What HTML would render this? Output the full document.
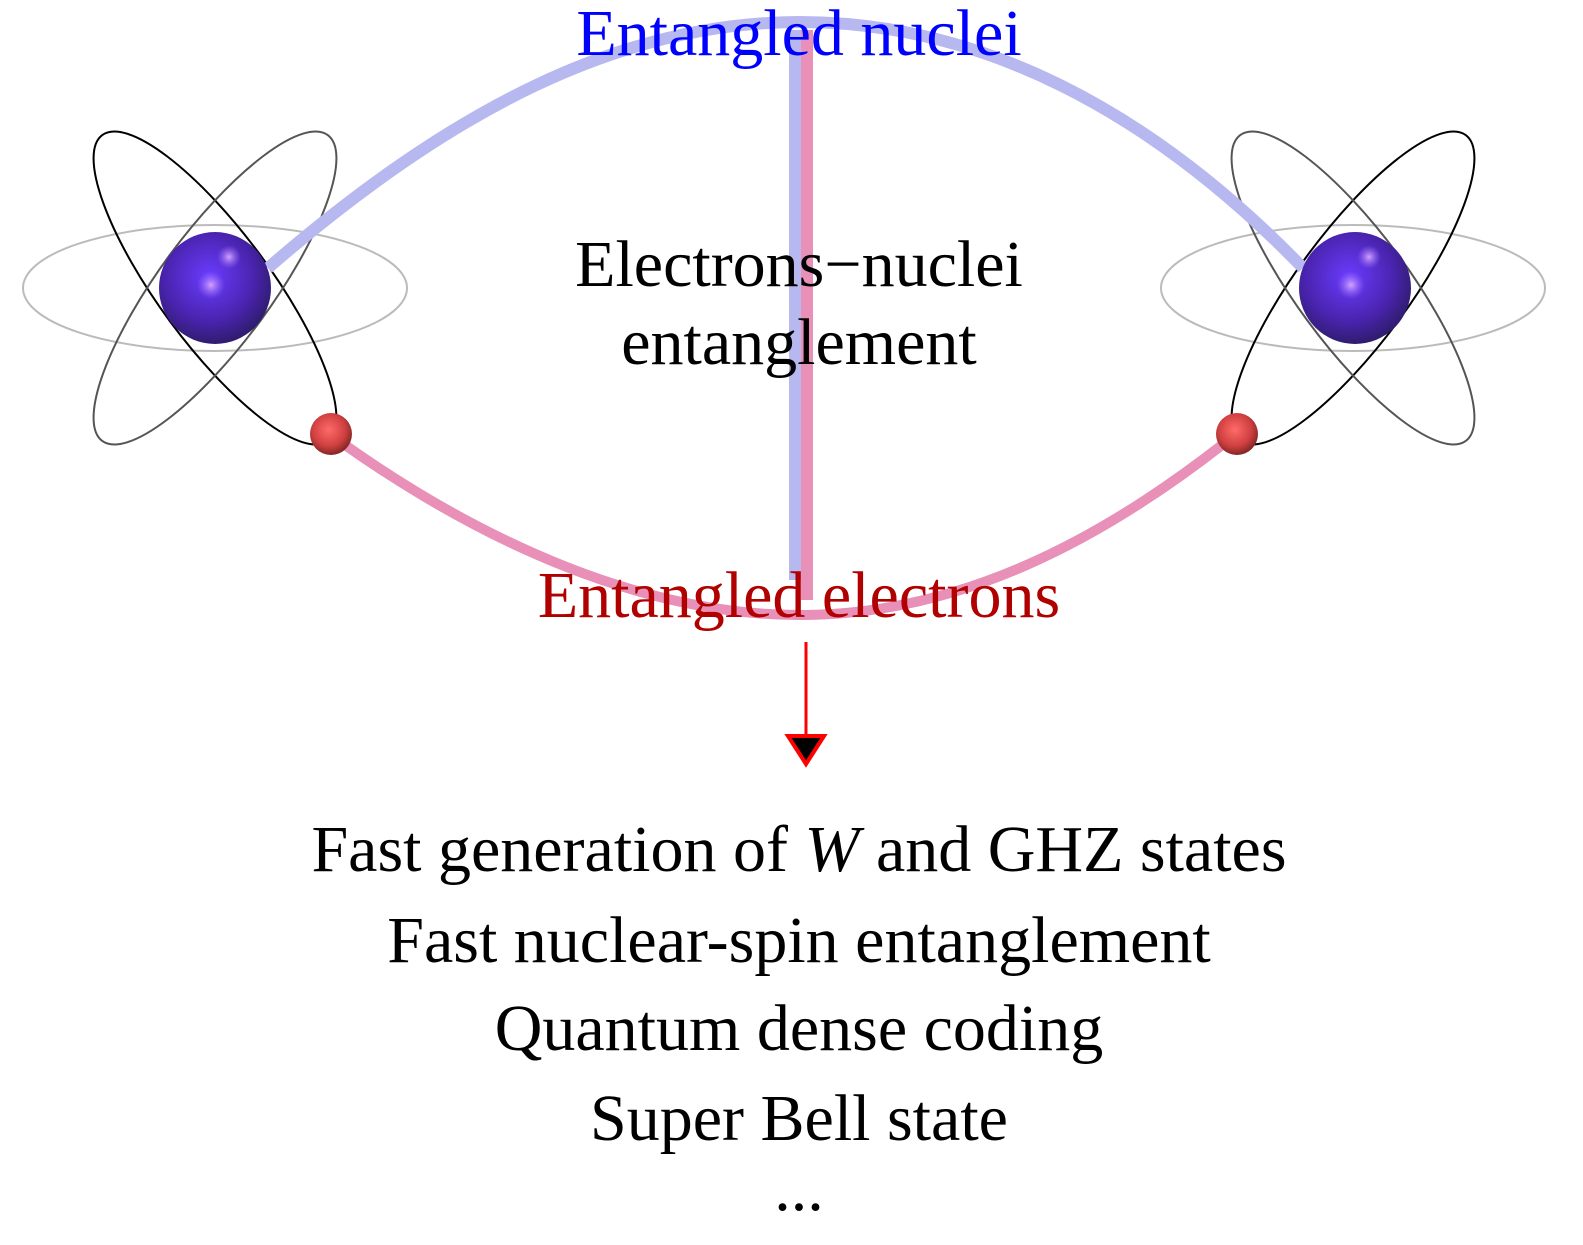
<!DOCTYPE html>
<html><head><meta charset="utf-8"><style>
html,body{margin:0;padding:0;background:#fff}
svg{display:block}
text{font-family:"Liberation Serif",serif;text-anchor:middle}
</style></head><body>
<svg width="1583" height="1245" viewBox="0 0 1583 1245" xmlns="http://www.w3.org/2000/svg">
<defs>
<radialGradient id="nuc" cx="0.45" cy="0.4" r="0.65">
<stop offset="0" stop-color="#6a3cff"/><stop offset="0.6" stop-color="#4a24b0"/><stop offset="1" stop-color="#2a1a60"/>
</radialGradient>
<radialGradient id="hl" cx="0.5" cy="0.5" r="0.5">
<stop offset="0" stop-color="#e0b0ff" stop-opacity="0.9"/><stop offset="1" stop-color="#a070ff" stop-opacity="0"/>
</radialGradient>
<radialGradient id="ele" cx="0.45" cy="0.4" r="0.65">
<stop offset="0" stop-color="#ff6a6a"/><stop offset="0.6" stop-color="#d04040"/><stop offset="1" stop-color="#702020"/>
</radialGradient>
</defs>
<g fill="none">
<ellipse cx="215" cy="288" rx="192" ry="63" stroke="#bbb" stroke-width="2"/>
<ellipse cx="215" cy="288" rx="190" ry="56" transform="rotate(53.6 215 288)" stroke="#000" stroke-width="2"/>
<ellipse cx="215" cy="288" rx="190" ry="56" transform="rotate(-53.6 215 288)" stroke="#555" stroke-width="2"/>
<ellipse cx="1353" cy="288" rx="192" ry="63" stroke="#bbb" stroke-width="2"/>
<ellipse cx="1353" cy="288" rx="190" ry="56" transform="rotate(-53.6 1353 288)" stroke="#000" stroke-width="2"/>
<ellipse cx="1353" cy="288" rx="190" ry="56" transform="rotate(53.6 1353 288)" stroke="#555" stroke-width="2"/>
<path d="M268,268 C450,110 620,22 800,22 C980,22 1150,110 1303,268" stroke="#b8b8f0" stroke-width="12"/>
<path d="M345,445 C480,540 640,615 800,615 C960,615 1100,540 1222,445" stroke="#e890b8" stroke-width="10"/>
<line x1="795" y1="30" x2="795" y2="580" stroke="#b8b8f0" stroke-width="12"/>
<line x1="807" y1="30" x2="807" y2="600" stroke="#e890b8" stroke-width="12"/>
</g>
<circle cx="215" cy="288" r="56" fill="url(#nuc)"/>
<circle cx="211" cy="285" r="14" fill="url(#hl)"/>
<circle cx="229" cy="257" r="12" fill="url(#hl)"/>
<circle cx="1355" cy="288" r="56" fill="url(#nuc)"/>
<circle cx="1351" cy="285" r="14" fill="url(#hl)"/>
<circle cx="1369" cy="257" r="12" fill="url(#hl)"/>
<circle cx="331" cy="434" r="21" fill="url(#ele)"/>
<circle cx="1237" cy="434" r="21" fill="url(#ele)"/>
<text x="799" y="55" font-size="66" fill="#0000ff">Entangled nuclei</text>
<text x="799" y="286" font-size="66" fill="#000">Electrons−nuclei</text>
<text x="799" y="364" font-size="66" fill="#000">entanglement</text>
<text x="799" y="617" font-size="66" fill="#b00000">Entangled electrons</text>
<line x1="806" y1="642" x2="806" y2="740" stroke="#ff0000" stroke-width="3"/>
<polygon points="788,736 824,736 806,764" fill="#000" stroke="#ff0000" stroke-width="4"/>
<text x="799" y="871" font-size="66" fill="#000">Fast generation of <tspan font-style="italic">W</tspan> and GHZ states</text>
<text x="799" y="962" font-size="66" fill="#000">Fast nuclear-spin entanglement</text>
<text x="799" y="1050" font-size="66" fill="#000">Quantum dense coding</text>
<text x="799" y="1140" font-size="66" fill="#000">Super Bell state</text>
<text x="799" y="1210" font-size="66" fill="#000">...</text>
</svg>
</body></html>
